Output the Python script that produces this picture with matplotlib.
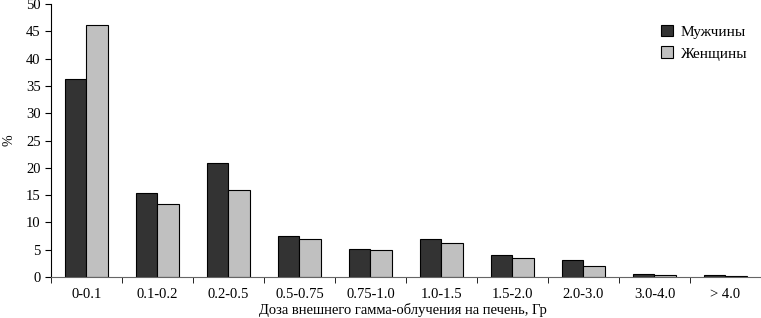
import numpy as np
import matplotlib.pyplot as plt

plt.rcParams['font.family'] = ['Liberation Serif', 'DejaVu Serif']

categories = ['0-0.1', '0.1-0.2', '0.2-0.5', '0.5-0.75', '0.75-1.0',
              '1.0-1.5', '1.5-2.0', '2.0-3.0', '3.0-4.0', '> 4.0']
men = [36.2, 15.3, 20.8, 7.6, 5.2, 7.0, 4.1, 3.2, 0.6, 0.3]
women = [46.2, 13.4, 16.0, 7.0, 4.9, 6.3, 3.4, 2.1, 0.3, 0.2]

fig = plt.figure(figsize=(7.61, 3.18), dpi=100)
ax = fig.add_axes([0.067, 0.129, 0.933, 0.858])

x = np.arange(len(categories))
w = 0.3
ax.bar(x - w/2, men, w, color='#333333', edgecolor='black', linewidth=0.8, label='Мужчины')
ax.bar(x + w/2, women, w, color='#c0c0c0', edgecolor='black', linewidth=0.8, label='Женщины')

ax.set_xlim(-0.5, len(categories) - 0.5)
ax.set_ylim(0, 50)
ax.set_yticks(range(0, 51, 5))
ax.set_xticks(x)
ax.set_xticklabels(categories, fontsize=10.5)
ax.set_xticks(np.arange(-0.5, len(categories)), minor=True)
ax.tick_params(axis='x', which='major', length=0, pad=8)
ax.tick_params(axis='x', which='minor', length=4, direction='out')
ax.tick_params(axis='y', labelsize=10.5, length=4)

ax.spines['top'].set_visible(False)
ax.spines['right'].set_visible(False)
ax.spines['bottom'].set_color('#666666')

ax.set_ylabel('%', fontsize=10)
ax.yaxis.set_label_coords(-0.05, 0.5)
ax.set_xlabel('Доза внешнего гамма-облучения на печень, Гр', fontsize=10.5)
ax.xaxis.set_label_coords(0.495, -0.095)

ax.legend(loc='upper right', bbox_to_anchor=(1.0, 0.975), frameon=False, fontsize=11,
          handlelength=0.8, handleheight=0.8, handletextpad=0.5, labelspacing=0.5)

fig.savefig('out.png', dpi=100)
